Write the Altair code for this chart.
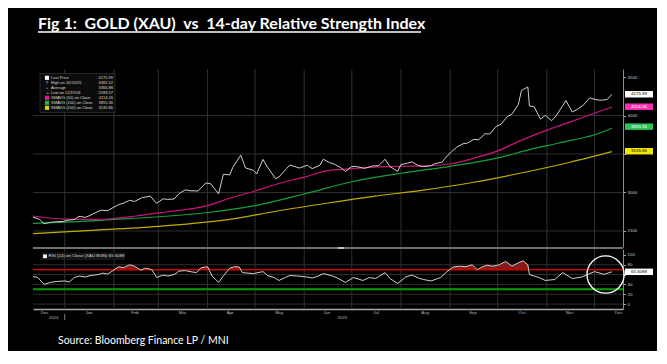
import altair as alt
import pandas as pd

# ---------------- data ----------------
title_text = "Fig 1:\u00a0 GOLD (XAU)\u00a0 vs\u00a0 14-day Relative Strength Index"
source_text = "Source: Bloomberg Finance LP / MNI"

price_dates = [
    "2024-12-12", "2024-12-16", "2024-12-19", "2024-12-23", "2024-12-27", "2024-12-31",
    "2025-01-03", "2025-01-07", "2025-01-10", "2025-01-14", "2025-01-17", "2025-01-21", "2025-01-24", "2025-01-28", "2025-01-31",
    "2025-02-04", "2025-02-07", "2025-02-11", "2025-02-14", "2025-02-19", "2025-02-24", "2025-02-28",
    "2025-03-04", "2025-03-07", "2025-03-11", "2025-03-14", "2025-03-18", "2025-03-21", "2025-03-26", "2025-03-31",
    "2025-04-03", "2025-04-08", "2025-04-11", "2025-04-15", "2025-04-17", "2025-04-22", "2025-04-25", "2025-04-30",
    "2025-05-02", "2025-05-06", "2025-05-09", "2025-05-14", "2025-05-16", "2025-05-21", "2025-05-23", "2025-05-29",
    "2025-06-03", "2025-06-06", "2025-06-11", "2025-06-13", "2025-06-17", "2025-06-20", "2025-06-24", "2025-06-27",
    "2025-07-01", "2025-07-04", "2025-07-09", "2025-07-14", "2025-07-18", "2025-07-22", "2025-07-25", "2025-07-30",
    "2025-08-01", "2025-08-05", "2025-08-08", "2025-08-12", "2025-08-15", "2025-08-20", "2025-08-22", "2025-08-27", "2025-08-29",
    "2025-09-02", "2025-09-05", "2025-09-09", "2025-09-12", "2025-09-16", "2025-09-19", "2025-09-23", "2025-09-26", "2025-09-30",
    "2025-10-03", "2025-10-07", "2025-10-10", "2025-10-14", "2025-10-16", "2025-10-20", "2025-10-21", "2025-10-24", "2025-10-28", "2025-10-31",
    "2025-11-04", "2025-11-07", "2025-11-11", "2025-11-13", "2025-11-17", "2025-11-20", "2025-11-24", "2025-11-28",
    "2025-12-02", "2025-12-05", "2025-12-09", "2025-12-12",
]
price_close = [
    2680, 2652, 2595, 2612, 2620, 2624,
    2640, 2648, 2690, 2677, 2702, 2744, 2770, 2763, 2798,
    2842, 2861, 2898, 2883, 2934, 2952, 2858,
    2918, 2910, 2916, 2984, 3034, 3023, 3019, 3124,
    3114, 2982, 3237, 3229, 3327, 3485, 3319, 3288,
    3240, 3430, 3325, 3178, 3200, 3314, 3357, 3318,
    3353, 3310, 3355, 3432, 3388, 3368, 3323, 3274,
    3338, 3337, 3313, 3344, 3350, 3431, 3337, 3275,
    3363, 3380, 3398, 3348, 3336, 3347, 3371, 3396, 3448,
    3533, 3586, 3632, 3643, 3690, 3685, 3763, 3760, 3858,
    3886, 3985, 4018, 4142, 4326, 4370, 4125, 4113, 3952, 4002,
    3933, 4000, 4128, 4195, 4046, 4077, 4135, 4230,
    4205, 4198, 4208, 4276,
]

sma50_dates = ["2024-12-12", "2025-01-01", "2025-01-20", "2025-02-01", "2025-02-15", "2025-03-01", "2025-03-15",
               "2025-04-01", "2025-04-15", "2025-05-01", "2025-05-15", "2025-06-01", "2025-06-15", "2025-07-01",
               "2025-07-15", "2025-08-01", "2025-08-15", "2025-09-01", "2025-09-15", "2025-10-01", "2025-10-15",
               "2025-11-01", "2025-11-15", "2025-12-01", "2025-12-12"]
sma50_vals = [2695, 2655, 2650, 2662, 2695, 2735, 2770,
              2830, 2925, 3020, 3110, 3200, 3280, 3310,
              3330, 3340, 3345, 3370, 3440, 3540, 3670,
              3810, 3910, 4030, 4110]

sma100_dates = ["2024-12-12", "2025-01-01", "2025-02-01", "2025-03-01", "2025-04-01", "2025-05-01", "2025-06-01",
                "2025-07-01", "2025-08-01", "2025-09-01", "2025-10-01", "2025-10-20", "2025-11-08", "2025-12-01",
                "2025-12-12"]
sma100_vals = [2600, 2615, 2650, 2685, 2740, 2830, 2980,
               3140, 3250, 3340, 3450, 3550, 3640, 3750,
               3835]

sma200_dates = ["2024-12-12", "2025-01-15", "2025-03-01", "2025-04-15", "2025-05-15", "2025-06-15", "2025-07-15",
                "2025-08-15", "2025-09-15", "2025-10-15", "2025-11-15", "2025-12-12"]
sma200_vals = [2465, 2505, 2560, 2650, 2760, 2860, 2950,
               3030, 3130, 3250, 3390, 3530]

rsi_dates = [
    "2024-12-12", "2024-12-15", "2024-12-19", "2024-12-23", "2024-12-27", "2025-01-01", "2025-01-04",
    "2025-01-07", "2025-01-10", "2025-01-14", "2025-01-17", "2025-01-22", "2025-01-25", "2025-01-28",
    "2025-01-31", "2025-02-04", "2025-02-07", "2025-02-11", "2025-02-14", "2025-02-18", "2025-02-21",
    "2025-02-25", "2025-02-28", "2025-03-04", "2025-03-07", "2025-03-11", "2025-03-14", "2025-03-18",
    "2025-03-21", "2025-03-25", "2025-03-28", "2025-04-01", "2025-04-04", "2025-04-08", "2025-04-11",
    "2025-04-15", "2025-04-18", "2025-04-21", "2025-04-23", "2025-04-30", "2025-05-06", "2025-05-09",
    "2025-05-13", "2025-05-16", "2025-05-20", "2025-05-23", "2025-05-28", "2025-06-03", "2025-06-06",
    "2025-06-10", "2025-06-13", "2025-06-18", "2025-06-22", "2025-06-27", "2025-07-02", "2025-07-08",
    "2025-07-12", "2025-07-16", "2025-07-22", "2025-07-25", "2025-07-30", "2025-08-04", "2025-08-08",
    "2025-08-12", "2025-08-15", "2025-08-20", "2025-08-26", "2025-08-30", "2025-09-03", "2025-09-07",
    "2025-09-11", "2025-09-15", "2025-09-18", "2025-09-21", "2025-09-24", "2025-09-28", "2025-10-02",
    "2025-10-06", "2025-10-10", "2025-10-14", "2025-10-17", "2025-10-20", "2025-10-21", "2025-10-27",
    "2025-10-31", "2025-11-06", "2025-11-11", "2025-11-17", "2025-11-23", "2025-12-01", "2025-12-07",
    "2025-12-12",
]
rsi_vals = [
    56, 54, 40, 44, 46, 47, 45,
    54, 57, 55, 58, 60, 63, 61,
    67, 76, 74, 80, 77, 69, 73,
    70, 54, 59, 57, 60, 67, 68,
    66, 64, 74, 76, 57, 44, 57,
    73, 76, 75.5, 64, 62, 66, 58,
    54, 48, 54, 58, 57, 55, 53,
    57, 62, 58, 53, 44, 54, 48,
    54, 52, 64, 52, 42, 55, 59,
    53, 50, 47, 54, 66, 75.5, 77,
    76, 80, 70, 75, 79, 77, 80,
    86.7, 77, 84, 88, 80, 60, 54,
    48, 50, 64, 52, 55, 66, 60.5,
    65.6,
]
rsi_last_label = "65.6088"
rsi_last_value = 65.6088

legend_symbols = ["", "T", "+", "\u22a5", "", "", ""]
legend_labels = ["Last Price", "High on 10/20/25", "Average", "Low on 12/19/24",
                 "SMAVG (50)  on Close", "SMAVG (100)  on Close", "SMAVG (200)  on Close"]
legend_values = ["4275.99", "4381.52", "3366.88", "2583.57", "4114.26", "3855.36", "3535.86"]
legend_swatches = ["#ffffff", None, None, None, "#e0198f", "#1fb64a", "#e6d500"]

box_values = [4275.99, 4114.26, 3855.36, 3535.86]
box_labels = ["4275.99", "4114.26", "3855.36", "3535.86"]
box_fills = ["#ffffff", "#ff2fb4", "#2cc556", "#f2e500"]
box_text_colors = ["#000000", "#ffffff", "#ffffff", "#000000"]

rsi_legend = "RSI (14)  on Close (XAU BGN) 65.6088"

month_starts = ["2025-01-01", "2025-02-01", "2025-03-01", "2025-04-01", "2025-05-01", "2025-06-01",
                "2025-07-01", "2025-08-01", "2025-09-01", "2025-10-01", "2025-11-01", "2025-12-01"]
month_label_days = [(2024, 12, 19), (2025, 1, 16), (2025, 2, 14), (2025, 3, 16), (2025, 4, 15), (2025, 5, 16),
                    (2025, 6, 15), (2025, 7, 16), (2025, 8, 16), (2025, 9, 15), (2025, 10, 16), (2025, 11, 15),
                    (2025, 12, 16)]
year_label_dates = ["2024-12-25", "2025-06-25"]
year_labels = ["2024", "2025"]
year_break = ["2025-01-01"]

price_ticks = [2500, 3000, 3500, 4000, 4500]
price_hidden_label = 3500
price_grid = [2500, 3000, 3500, 4000]
rsi_ticks = [0, 20, 40, 60, 80, 100]
rsi_hidden_label = 60
rsi_grid = [0, 20, 40, 60, 80]
rsi_upper = 70
rsi_lower = 30
circle_date = ["2025-12-08"]
circle_rsi = [60]

# ---------------- styling ----------------
W, H1, H2 = 590, 178, 60
SMALL = "Liberation Sans"
FS = 4.4
LFS = 4.0
BIG = "Lato"

xscale = alt.Scale(type="utc", domain=[alt.DateTime(year=2024, month=12, date=12, utc=True),
                                       alt.DateTime(year=2025, month=12, date=19, utc=True)])
pscale = alt.Scale(domain=[2292, 4604], nice=False, zero=False)
rscale = alt.Scale(domain=[-10, 112], nice=False, zero=False)

paxis = alt.Axis(orient="right", values=price_ticks, format="d", labelFontSize=FS, labelFont=SMALL,
                 labelColor="#c4c4c4", tickColor="#a0a0a0", tickSize=2.5, domainColor="#8a8a8a",
                 domainWidth=1, grid=False, title=None, labelPadding=1.5,
                 labelExpr=f"datum.value == {price_hidden_label} ? '' : datum.label")
raxis = alt.Axis(orient="right", values=rsi_ticks, format="d", labelFontSize=FS, labelFont=SMALL,
                 labelColor="#c4c4c4", tickColor="#a0a0a0", tickSize=2.5, domainColor="#8a8a8a",
                 domainWidth=1, grid=False, title=None, labelPadding=1.5,
                 labelExpr=f"datum.value == {rsi_hidden_label} ? '' : datum.label")
xaxis_rsi = alt.Axis(values=[alt.DateTime(year=y, month=m, date=d, utc=True) for (y, m, d) in month_label_days],
                     format="%b", labelFontSize=FS, labelFont=SMALL, labelColor="#b8b8b8", ticks=False,
                     domainColor="#a8a8a8", domainWidth=1.5, labelPadding=1.5, grid=False, title=None,
                     labelFlush=False, labelOverlap=False)

GRID = "#343434"


def PX(f):
    return alt.X(f"{f}:T", scale=xscale, axis=None)


def PY(f):
    return alt.Y(f"{f}:Q", scale=pscale, axis=paxis)


def RX(f):
    return alt.X(f"{f}:T", scale=xscale, axis=xaxis_rsi)


def RY(f):
    return alt.Y(f"{f}:Q", scale=rscale, axis=raxis)


one = pd.DataFrame({"k": [0]})

# ---------------- price panel ----------------
p_layers = []
p_layers.append(alt.Chart(pd.DataFrame({"d": month_starts})).mark_rule(color=GRID, strokeWidth=0.9)
                .encode(x=PX("d")))
p_layers.append(alt.Chart(pd.DataFrame({"v": price_grid})).mark_rule(color=GRID, strokeWidth=0.9)
                .encode(y=PY("v")))
for dts, vals, col in [(sma200_dates, sma200_vals, "#c2ad00"),
                       (sma100_dates, sma100_vals, "#14a03c"),
                       (sma50_dates, sma50_vals, "#c8157a")]:
    p_layers.append(alt.Chart(pd.DataFrame({"d": dts, "v": vals}))
                    .mark_line(color=col, strokeWidth=1.2, interpolate="monotone")
                    .encode(x=PX("d"), y=PY("v")))
p_layers.append(alt.Chart(pd.DataFrame({"d": price_dates, "v": price_close}))
                .mark_line(color="#cfcfcf", strokeWidth=1)
                .encode(x=PX("d"), y=PY("v")))

# legend box
p_layers.append(alt.Chart(one).mark_rect(fill="#0c0c0c", stroke="#3c3c3c", strokeWidth=0.6)
                .encode(x=alt.value(7), x2=alt.value(82), y=alt.value(4.5), y2=alt.value(43.5)))
for i in range(len(legend_labels)):
    yy = 8.8 + 5.0 * i
    df = pd.DataFrame({"t": [legend_labels[i]], "v": [legend_values[i]], "s": [legend_symbols[i]]})
    p_layers.append(alt.Chart(df).mark_text(font=SMALL, fontSize=LFS, color="#d8d8d8", align="left",
                                             baseline="middle")
                    .encode(x=alt.value(18), y=alt.value(yy), text="t:N"))
    p_layers.append(alt.Chart(df).mark_text(font=SMALL, fontSize=LFS, color="#d8d8d8", align="right",
                                             baseline="middle")
                    .encode(x=alt.value(80), y=alt.value(yy), text="v:N"))
    if legend_swatches[i]:
        p_layers.append(alt.Chart(df).mark_square(color=legend_swatches[i], size=17, opacity=1)
                        .encode(x=alt.value(14), y=alt.value(yy)))
    elif legend_symbols[i]:
        p_layers.append(alt.Chart(df).mark_text(font=SMALL, fontSize=LFS, color="#d8d8d8", align="center",
                                                 baseline="middle")
                        .encode(x=alt.value(14), y=alt.value(yy), text="s:N"))

# right-hand value boxes
BOX = "M-1,-0.23L1,-0.23L1,0.23L-1,0.23Z"
for v, lab, fc, tc in zip(box_values, box_labels, box_fills, box_text_colors):
    df = pd.DataFrame({"v": [v], "t": [lab]})
    p_layers.append(alt.Chart(df).mark_point(shape=BOX, size=784, filled=True, fill=fc, opacity=1,
                                              strokeWidth=0)
                    .encode(x=alt.value(W + 16), y=PY("v")))
    p_layers.append(alt.Chart(df).mark_text(font=SMALL, fontSize=FS, color=tc, align="center",
                                             baseline="middle")
                    .encode(x=alt.value(W + 16), y=PY("v"), text="t:N"))

# page title with underline
p_layers.append(alt.Chart(pd.DataFrame({"t": [title_text]}))
                .mark_text(font=BIG, fontSize=16, fontWeight="bold", color="white", align="left",
                           baseline="alphabetic")
                .encode(x=alt.value(5), y=alt.value(-40), text="t:N"))
p_layers.append(alt.Chart(one).mark_rule(color="white", strokeWidth=1.3)
                .encode(x=alt.value(5), x2=alt.value(388), y=alt.value(-37)))

price = alt.layer(*p_layers).properties(width=W, height=H1)

# ---------------- RSI panel ----------------
rsi_df = pd.DataFrame({"d": rsi_dates, "r": rsi_vals})
r_layers = []
r_layers.append(alt.Chart(pd.DataFrame({"d": month_starts})).mark_rule(color=GRID, strokeWidth=0.9)
                .encode(x=RX("d")))
r_layers.append(alt.Chart(pd.DataFrame({"v": rsi_grid})).mark_rule(color=GRID, strokeWidth=0.9)
                .encode(y=RY("v")))
r_layers.append(alt.Chart(rsi_df)
                .transform_calculate(top=f"max(datum.r, {rsi_upper})", base=f"{rsi_upper}")
                .mark_area(color="#8e1a1a", opacity=0.95)
                .encode(x=RX("d"), y=RY("top"), y2="base:Q"))
r_layers.append(alt.Chart(pd.DataFrame({"v": [rsi_upper]})).mark_rule(color="#d10000", strokeWidth=1.5)
                .encode(y=RY("v")))
r_layers.append(alt.Chart(pd.DataFrame({"v": [rsi_lower]})).mark_rule(color="#00a000", strokeWidth=2)
                .encode(y=RY("v")))
r_layers.append(alt.Chart(rsi_df).mark_line(color="#d0d0d0", strokeWidth=1)
                .encode(x=RX("d"), y=RY("r")))
# separator between panels
r_layers.append(alt.Chart(one).mark_rule(color="#707070", strokeWidth=2)
                .encode(x=alt.value(0), x2=alt.value(W), y=alt.value(-1)))
r_layers.append(alt.Chart(one).mark_rule(color="#dddddd", strokeWidth=1.5)
                .encode(x=alt.value(305), x2=alt.value(311), y=alt.value(-1)))
# legend
r_layers.append(alt.Chart(one).mark_rect(fill="#151515")
                .encode(x=alt.value(8), x2=alt.value(92), y=alt.value(3.5), y2=alt.value(11)))
r_layers.append(alt.Chart(one).mark_square(color="white", size=14, opacity=1)
                .encode(x=alt.value(12), y=alt.value(7.3)))
r_layers.append(alt.Chart(pd.DataFrame({"t": [rsi_legend]}))
                .mark_text(font=SMALL, fontSize=FS, color="#d8d8d8", align="left", baseline="middle")
                .encode(x=alt.value(15.5), y=alt.value(7.3), text="t:N"))
# last value box
lv = pd.DataFrame({"v": [rsi_last_value], "t": [rsi_last_label]})
r_layers.append(alt.Chart(lv).mark_point(shape=BOX, size=784, filled=True, fill="#ffffff", opacity=1,
                                          strokeWidth=0)
                .encode(x=alt.value(W + 16), y=RY("v")))
r_layers.append(alt.Chart(lv).mark_text(font=SMALL, fontSize=FS, color="#000000", align="center",
                                         baseline="middle")
                .encode(x=alt.value(W + 16), y=RY("v"), text="t:N"))
# circle annotation
r_layers.append(alt.Chart(pd.DataFrame({"d": circle_date, "r": circle_rsi}))
                .mark_point(shape="circle", size=1385, filled=False, color="white", strokeWidth=1.3,
                            opacity=1)
                .encode(x=RX("d"), y=RY("r")))
# year row
r_layers.append(alt.Chart(pd.DataFrame({"d": year_label_dates, "t": year_labels}))
                .mark_text(font=SMALL, fontSize=FS, color="#b8b8b8", align="center", baseline="middle")
                .encode(x=RX("d"), y=alt.value(H2 + 8.5), text="t:N"))
r_layers.append(alt.Chart(pd.DataFrame({"d": year_break})).mark_rule(color="#9a9a9a", strokeWidth=0.8)
                .encode(x=RX("d"), y=alt.value(H2 + 5), y2=alt.value(H2 + 11)))
# source
r_layers.append(alt.Chart(pd.DataFrame({"t": [source_text]}))
                .mark_text(font=BIG, fontSize=10.5, color="white", align="left", baseline="middle")
                .encode(x=alt.value(25), y=alt.value(H2 + 32), text="t:N"))

rsi = alt.layer(*r_layers).properties(width=W, height=H2)

chart = (alt.vconcat(price, rsi, spacing=2, bounds="flush")
         .properties(padding={"left": 22, "top": 8, "right": 4, "bottom": 4})
         .configure(background="black")
         .configure_view(stroke=None))

chart.save("out.html", embed_options={"renderer": "svg", "actions": False})
